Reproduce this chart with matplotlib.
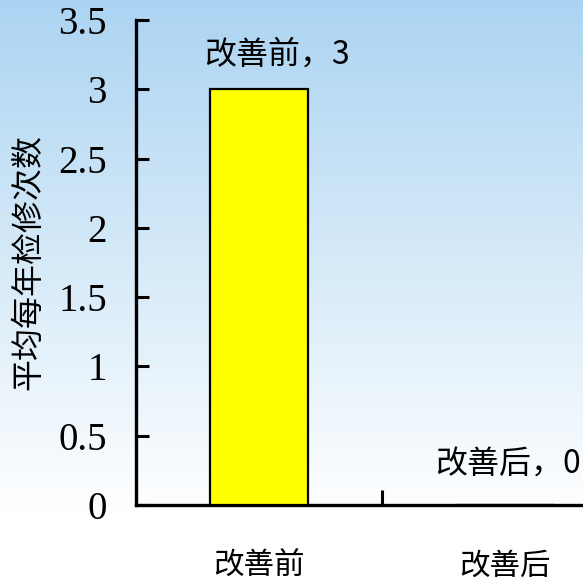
import numpy as np
import matplotlib
matplotlib.use("Agg")
import matplotlib.pyplot as plt
from matplotlib.colors import LinearSegmentedColormap

# inspection counts before / after the improvement
categories = ["改善前", "改善后"]
counts = [3, 0]
bar_labels = ["改善前，3", "改善后，0"]
yticks = [0, 0.5, 1, 1.5, 2, 2.5, 3, 3.5]
ytick_labels = ["0", "0.5", "1", "1.5", "2", "2.5", "3", "3.5"]

cjk = ["Noto Sans CJK SC", "DejaVu Sans"]

fig = plt.figure(figsize=(5.83, 5.84), dpi=100)

# pale blue backdrop fading to white toward the bottom
bg = fig.add_axes([0, 0, 1, 1], zorder=0)
grad = np.linspace(0, 1, 256).reshape(-1, 1)
cmap = LinearSegmentedColormap.from_list(
    "bg", [(0.0, "#ffffff"), (0.12, "#ffffff"), (0.55, "#d6eaf8"), (1.0, "#acd4f2")])
bg.imshow(grad, aspect="auto", cmap=cmap, origin="lower", extent=[0, 1, 0, 1])
bg.axis("off")

# axes run past the right edge of the figure
ax = fig.add_axes([136 / 583, 79 / 584, 492 / 583, 485 / 584], zorder=1)
ax.patch.set_alpha(0)

x = np.arange(len(categories))
ax.bar(x, counts, width=0.4, color="#ffff00", edgecolor="black", linewidth=1.6, zorder=3)

ax.set_xlim(-0.5, 1.5)
ax.set_ylim(0, 3.5)

for sp in ["top", "right"]:
    ax.spines[sp].set_visible(False)
for sp in ["left", "bottom"]:
    ax.spines[sp].set_linewidth(2.4)

ax.set_yticks(yticks)
ax.set_yticklabels(ytick_labels, family="Liberation Serif", fontsize=28)
ax.tick_params(axis="y", direction="in", length=9, width=2.2, pad=21)

# category boundary tick at 0.5, category names on the minor ticks
ax.set_xticks([0.5])
ax.set_xticklabels([""])
ax.tick_params(axis="x", which="major", direction="in", length=11, width=2.2)
ax.set_xticks(x, minor=True)
ax.set_xticklabels(categories, minor=True, family=cjk, fontsize=22)
ax.tick_params(axis="x", which="minor", length=0, pad=33)

ax.set_ylabel("平均每年检修次数", family=cjk, fontsize=23, labelpad=10)

offsets = [(13, 25), (2, 30)]
for xi, v, lab, off in zip(x, counts, bar_labels, offsets):
    ax.annotate(lab, (xi, v), xytext=off, textcoords="offset points",
                ha="center", va="center", family=cjk, fontsize=23,
                annotation_clip=False)

fig.savefig("out.png", dpi=100)
